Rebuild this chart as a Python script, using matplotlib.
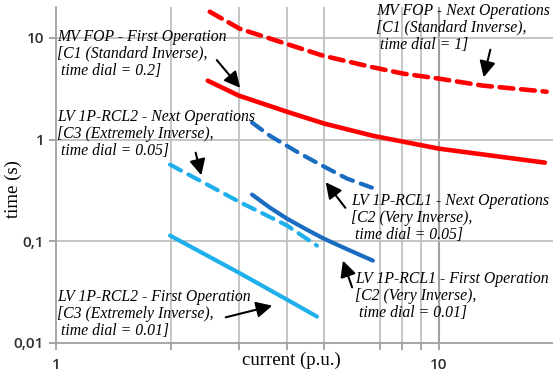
import matplotlib
matplotlib.use("Agg")
import matplotlib.pyplot as plt

# ---------- data ----------
mv_next_i = [2.52, 3.02, 3.84, 4.98, 6.60, 8.06, 10.0, 13.0, 19.1]
mv_next_t = [18.1, 12.3, 9.18, 6.69, 5.22, 4.46, 3.98, 3.40, 2.96]

mv_first_i = [2.49, 3.00, 4.01, 5.01, 6.73, 10.0, 18.9]
mv_first_t = [3.80, 2.71, 1.88, 1.44, 1.09, 0.815, 0.594]

rcl1_next_i = [3.25, 3.62, 4.34, 5.01, 5.75, 6.68]
rcl1_next_t = [1.47, 1.09, 0.728, 0.543, 0.414, 0.337]

rcl1_first_i = [3.25, 3.62, 4.01, 4.52, 5.01, 5.86, 6.72]
rcl1_first_t = [0.288, 0.214, 0.167, 0.130, 0.106, 0.0811, 0.0646]

rcl2_next_i = [1.985, 3.00, 4.01, 4.80]
rcl2_next_t = [0.568, 0.246, 0.143, 0.0907]

rcl2_first_i = [1.985, 3.00, 4.01, 4.80]
rcl2_first_t = [0.114, 0.0492, 0.0267, 0.0182]

x_grid = [2, 3, 4, 5, 7, 8, 9]
y_ticks = [0.01, 0.1, 1, 10]
y_tick_labels = ["0,01", "0,1", "1", "10"]

RED = "#ff0000"
DARK_BLUE = "#1a6cc0"
LIGHT_BLUE = "#1fb0ec"

W, H = 553, 378
fig = plt.figure(figsize=(W / 100, H / 100), dpi=100)
ax = fig.add_axes([0.1013, 0.0926, 0.901, 0.888])
ax.set_xscale("log")
ax.set_yscale("log")
ax.set_xlim(1, 20)
ax.set_ylim(0.01, 20)

# grid (no line at 6 in the original)
for g in x_grid:
    ax.axvline(g, color="#c0c0c0", lw=1.3, zorder=0)
ax.axvline(10, color="#a0a0a0", lw=1.5, zorder=0)
for g in [0.1, 1, 10]:
    ax.axhline(g, color="#c0c0c0", lw=1.3, zorder=0)

# curves
ax.plot(mv_next_i, mv_next_t, color=RED, lw=3.3, dashes=(3.0, 1.7),
        dash_capstyle="round")
ax.plot(mv_first_i, mv_first_t, color=RED, lw=3.3, solid_capstyle="round")
ax.plot(rcl1_next_i, rcl1_next_t, color=DARK_BLUE, lw=3.0, dashes=(3.0, 2.0),
        dash_capstyle="round")
ax.plot(rcl1_first_i, rcl1_first_t, color=DARK_BLUE, lw=3.0, solid_capstyle="round")
ax.plot(rcl2_next_i, rcl2_next_t, color=LIGHT_BLUE, lw=3.0, dashes=(3.0, 2.0),
        dash_capstyle="round")
ax.plot(rcl2_first_i, rcl2_first_t, color=LIGHT_BLUE, lw=3.0, solid_capstyle="round")

# axes styling
for side in ["top", "right"]:
    ax.spines[side].set_visible(False)
for side in ["left", "bottom"]:
    ax.spines[side].set_color("#a0a0a0")
    ax.spines[side].set_linewidth(1.3)

ax.set_yticks(y_ticks)
ax.set_yticklabels(y_tick_labels)
ax.set_yticks([], minor=True)
ax.set_xticks([1, 10])
ax.set_xticklabels(["1", "10"])
ax.set_xticks(x_grid, minor=True)
ax.xaxis.set_minor_formatter(plt.NullFormatter())
ax.tick_params(axis="both", which="both", color="#a0a0a0", width=1.3, length=5,
               labelsize=11)
ax.tick_params(axis="x", pad=6)
for lab in ax.get_xticklabels() + ax.get_yticklabels():
    lab.set_fontfamily("Open Sans")
    lab.set_fontweight("semibold")
    lab.set_color("#303030")

ax.set_xlabel("current (p.u.)", family="Liberation Serif", fontsize=13.5)
ax.set_ylabel("time (s)", family="Liberation Serif", fontsize=13.5)
ax.xaxis.set_label_coords(0.472, -0.025)
ax.yaxis.set_label_coords(-0.068, 0.46)

# annotations (positions in figure pixels from the top-left corner)
tkw = dict(family="Liberation Serif", style="italic", fontsize=11.3,
           va="top", ha="left", linespacing=1.07)
akw = dict(arrowstyle="-|>", color="black", lw=1.5, mutation_scale=24)


def note(text, px, py, tip, tail):
    fig.text(px / W, 1 - py / H, text, **tkw)
    ax.annotate("", xy=(tip[0], H - tip[1]), xytext=(tail[0], H - tail[1]),
                xycoords="figure pixels", textcoords="figure pixels",
                arrowprops=akw)


note("MV FOP - First Operation\n[C1 (Standard Inverse),\n time dial = 0.2]",
     57, 29, (242, 90), (215, 58))
note("MV FOP - Next Operations\n[C1 (Standard Inverse),\n time dial = 1]",
     376, 3, (483, 80), (491, 47))
note("LV 1P-RCL2 - Next Operations\n[C3 (Extremely Inverse),\n time dial = 0.05]",
     57, 109, (202, 178), (195, 150))
note("LV 1P-RCL1 - Next Operations\n[C2 (Very Inverse),\n time dial = 0.05]",
     351, 193, (324, 180), (347, 210))
note("LV 1P-RCL1 - First Operation\n[C2 (Very Inverse),\n time dial = 0.01]",
     355, 271, (342, 258), (353, 290))
note("LV 1P-RCL2 - First Operation\n[C3 (Extremely Inverse),\n time dial = 0.01]",
     57, 289, (275, 305), (223, 318))

fig.savefig("out.png", dpi=100)
